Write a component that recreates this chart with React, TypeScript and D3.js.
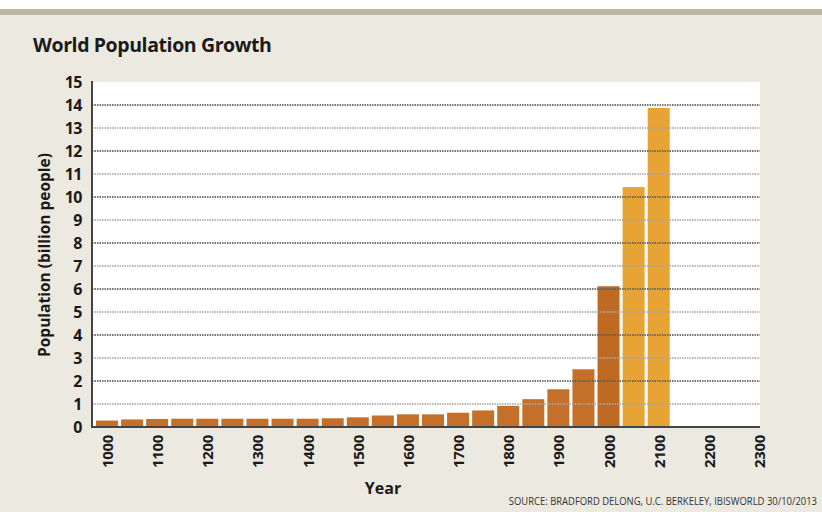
import React, { useLayoutEffect, useRef, useState } from "react";
import * as d3 from "d3";

const years = [1000, 1050, 1100, 1150, 1200, 1250, 1300, 1350, 1400, 1450, 1500, 1550, 1600, 1650, 1700, 1750, 1800, 1850, 1900, 1950, 2000, 2050, 2100];
const population = [0.28, 0.33, 0.35, 0.36, 0.36, 0.36, 0.36, 0.36, 0.36, 0.38, 0.42, 0.5, 0.55, 0.55, 0.62, 0.72, 0.92, 1.21, 1.64, 2.51, 6.12, 10.43, 13.87];
const projected = [false, false, false, false, false, false, false, false, false, false, false, false, false, false, false, false, false, false, false, false, false, true, true];
const xTicks = [1000, 1100, 1200, 1300, 1400, 1500, 1600, 1700, 1800, 1900, 2000, 2100, 2200, 2300];
const yTicks = [0, 1, 2, 3, 4, 5, 6, 7, 8, 9, 10, 11, 12, 13, 14, 15];
const sourceText = "SOURCE: BRADFORD DELONG, U.C. BERKELEY, IBISWORLD 30/10/2013";

const W = 822;
const H = 512;
const FONT = "'Open Sans', 'DejaVu Sans', sans-serif";

export default function App() {
  const x = d3.scaleLinear().domain([1000, 2300]).range([107, 759]);
  const y = d3.scaleLinear().domain([0, 15]).range([427, 82]);
  const barW = 22;
  const plotLeft = 92;
  const plotRight = 760;

  const srcRef = useRef<SVGTextElement | null>(null);
  const [srcScale, setSrcScale] = useState(0.85);
  useLayoutEffect(() => {
    if (srcRef.current) {
      const w = srcRef.current.getComputedTextLength();
      if (w > 0) setSrcScale(Math.min(1, 308 / w));
    }
  }, []);

  return (
    <div style={{ position: "fixed", left: 0, top: 0 }}>
      <svg width={W} height={H} style={{ display: "block" }}>
        <rect x={0} y={0} width={W} height={H} fill="#ece9e0" />
        <rect x={0} y={0} width={W} height={9} fill="#ffffff" />
        <rect x={0} y={9} width={W} height={6} fill="#bdb59f" />
        <text x={33} y={52} fontFamily={FONT} fontWeight={700} fontSize={19.5} fill="#1a1a1a" letterSpacing={-0.4}>
          World Population Growth
        </text>
        {/* plot background */}
        <rect x={plotLeft} y={y(15)} width={plotRight - plotLeft} height={y(0) - y(15)} fill="#ffffff" />
        {/* bars */}
        {years.map((yr, i) => (
          <rect
            key={yr}
            x={x(yr) - barW / 2}
            y={y(population[i])}
            width={barW}
            height={y(0) - y(population[i])}
            fill={projected[i] ? "#e7a333" : yr === 2000 ? "#bf6a22" : "#c4702a"}
          />
        ))}
        {/* gridlines */}
        {yTicks.filter((t) => t > 0 && t < 15).map((t) => (
          <line
            key={t}
            x1={plotLeft}
            x2={plotRight}
            y1={y(t)}
            y2={y(t)}
            stroke={t % 2 === 0 ? "#5e5e5e" : "#a8a8a8"}
            strokeOpacity={t % 2 === 0 ? 0.85 : 0.8}
            strokeWidth={1.8}
            strokeDasharray="1.5,1"
          />
        ))}
        {/* axes */}
        <line x1={plotLeft} x2={plotLeft} y1={y(15) - 1} y2={y(0) + 1} stroke="#444" strokeWidth={2} />
        <line x1={plotLeft - 1} x2={plotRight} y1={y(0)} y2={y(0)} stroke="#444" strokeWidth={2} />
        {/* y tick labels */}
        {yTicks.map((t) => (
          <text
            key={t}
            x={82}
            y={y(t)}
            dy="0.36em"
            textAnchor="end"
            fontFamily={FONT}
            fontWeight={700}
            fontSize={16}
            fill="#1a1a1a"
            letterSpacing={-0.5}
          >
            {t}
          </text>
        ))}
        {/* y axis label */}
        <text
          transform={`translate(50, 255) rotate(-90)`}
          textAnchor="middle"
          fontFamily={FONT}
          fontWeight={700}
          fontSize={15.5}
          fill="#1a1a1a"
        >
          Population (billion people)
        </text>
        {/* x tick labels */}
        {xTicks.map((t) => (
          <text
            key={t}
            transform={`translate(${x(t) + 6}, 435) rotate(-90)`}
            textAnchor="end"
            fontFamily={FONT}
            fontWeight={700}
            fontSize={15}
            fill="#1a1a1a"
            letterSpacing={-0.3}
          >
            {t}
          </text>
        ))}
        <text x={383} y={494} textAnchor="middle" fontFamily={FONT} fontWeight={700} fontSize={16} fill="#1a1a1a">
          Year
        </text>
        <text
          ref={srcRef}
          transform={`translate(817, 505) scale(${srcScale}, 1)`}
          textAnchor="end"
          fontFamily={FONT}
          fontSize={10}
          fill="#333"
        >
          {sourceText}
        </text>
      </svg>
    </div>
  );
}
